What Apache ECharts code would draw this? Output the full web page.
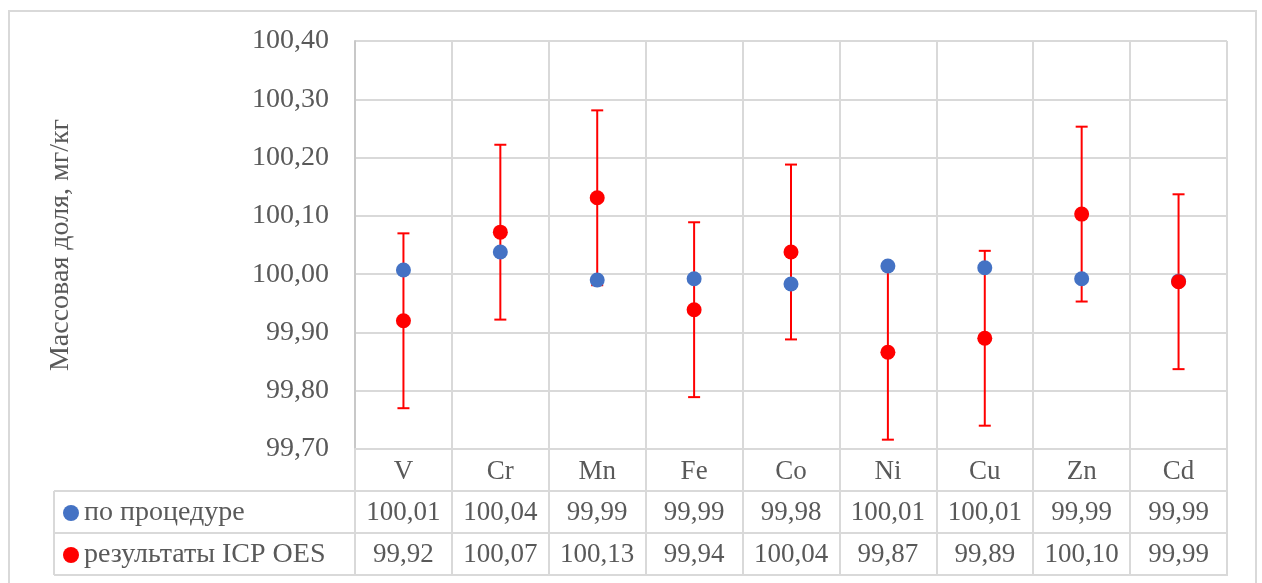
<!DOCTYPE html>
<html>
<head>
<meta charset="utf-8">
<script src="https://cdn.jsdelivr.net/npm/echarts@6/dist/echarts.min.js"></script>
<style>
html,body{margin:0;padding:0;background:#fff;}
#chart{width:1262px;height:583px;}
</style>
</head>
<body>
<div id="chart"></div>
<script>
const categories = ['V', 'Cr', 'Mn', 'Fe', 'Co', 'Ni', 'Cu', 'Zn', 'Cd'];
const procName = 'по процедуре';
const icpName = 'результаты ICP OES';
const procValues = [100.007, 100.038, 99.990, 99.992, 99.983, 100.014, 100.011, 99.992, 99.988];
const icpValues = [99.920, 100.072, 100.131, 99.939, 100.038, 99.866, 99.890, 100.103, 99.987];
const icpErrors = [0.15, 0.15, 0.15, 0.15, 0.15, 0.15, 0.15, 0.15, 0.15];
const yMin = 99.70, yMax = 100.40, yStep = 0.10;
const axisTitle = 'Массовая доля, мг/кг';

const FONT = "'Liberation Serif', 'Times New Roman', serif";
const TXT = '#595959';
const GRID = '#d9d9d9';
const fmt = v => v.toFixed(2).replace('.', ',');

const G = {left: 355, right: 35, top: 41, bottom: 134};
const W = 1262, H = 583;
const plotBottom = H - G.bottom;
const rowH = 42;
const tableLeft = 54;
const tableRight = W - G.right;

const chart = echarts.init(document.getElementById('chart'), null, {renderer: 'canvas'});

const errData = categories.map((c, i) => [i, icpValues[i] - icpErrors[i], icpValues[i] + icpErrors[i]]);

const valueAxisCommon = {
  type: 'category', gridIndex: 0, position: 'bottom',
  axisLine: {show: false}, axisTick: {show: false}, splitLine: {show: false},
  axisLabel: {color: TXT, fontFamily: FONT, fontSize: 27, margin: 8}
};

const option = {
  backgroundColor: '#fff',
  animation: false,
  grid: {left: G.left, right: G.right, top: G.top, bottom: G.bottom, containLabel: false},
  legend: {
    data: [procName, icpName],
    orient: 'vertical', left: 58, top: 493,
    icon: 'circle', itemWidth: 16, itemHeight: 16, itemGap: 12,
    textStyle: {color: TXT, fontFamily: FONT, fontSize: 28, lineHeight: 30},
    selectedMode: false
  },
  xAxis: [
    {
      type: 'category', data: categories, boundaryGap: true,
      axisLine: {show: true, lineStyle: {color: GRID, width: 2}},
      axisTick: {show: true, interval: 0, length: rowH * 3 + 1, lineStyle: {color: GRID, width: 2}},
      splitLine: {show: true, interval: 0, lineStyle: {color: GRID, width: 2}},
      axisLabel: {color: TXT, fontFamily: FONT, fontSize: 27, margin: 9}
    },
    Object.assign({}, valueAxisCommon, {data: procValues.map(fmt), offset: rowH}),
    Object.assign({}, valueAxisCommon, {data: icpValues.map(fmt), offset: rowH * 2})
  ],
  yAxis: {
    type: 'value', min: yMin, max: yMax, interval: yStep,
    name: axisTitle, nameLocation: 'middle', nameRotate: 90, nameGap: 280,
    nameTextStyle: {color: TXT, fontFamily: FONT, fontSize: 28},
    axisLine: {show: true, lineStyle: {color: '#c8c8c8', width: 2}},
    axisTick: {show: false},
    splitLine: {show: true, lineStyle: {color: GRID, width: 2}},
    axisLabel: {color: TXT, fontFamily: FONT, fontSize: 28, margin: 26, formatter: fmt}
  },
  series: [
    {
      name: 'err', type: 'custom', z: 2, silent: true,
      data: errData, encode: {x: 0, y: [1, 2]},
      renderItem: function (params, api) {
        const x = api.value(0);
        const lo = api.coord([x, api.value(1)]);
        const hi = api.coord([x, api.value(2)]);
        const hw = 6;
        const st = {stroke: '#ff0000', lineWidth: 2};
        return {
          type: 'group',
          children: [
            {type: 'line', shape: {x1: lo[0], y1: lo[1], x2: hi[0], y2: hi[1]}, style: st},
            {type: 'line', shape: {x1: lo[0] - hw, y1: lo[1], x2: lo[0] + hw, y2: lo[1]}, style: st},
            {type: 'line', shape: {x1: hi[0] - hw, y1: hi[1], x2: hi[0] + hw, y2: hi[1]}, style: st}
          ]
        };
      }
    },
    {
      name: procName, type: 'scatter', z: 3, data: procValues,
      symbol: 'circle', symbolSize: 15, itemStyle: {color: '#4472c4', opacity: 1}
    },
    {
      name: icpName, type: 'scatter', z: 4, data: icpValues,
      symbol: 'circle', symbolSize: 15, itemStyle: {color: '#ff0000', opacity: 1}
    }
  ],
  graphic: [
    {type: 'rect', silent: true, z: -1, shape: {x: 9, y: 11, width: 1247, height: 590},
      style: {fill: null, stroke: GRID, lineWidth: 2}},
    {type: 'line', silent: true, shape: {x1: tableLeft, y1: plotBottom + rowH, x2: tableRight, y2: plotBottom + rowH},
      style: {stroke: GRID, lineWidth: 2}},
    {type: 'line', silent: true, shape: {x1: tableLeft, y1: plotBottom + rowH * 2, x2: tableRight, y2: plotBottom + rowH * 2},
      style: {stroke: GRID, lineWidth: 2}},
    {type: 'line', silent: true, shape: {x1: tableLeft, y1: plotBottom + rowH * 3, x2: tableRight, y2: plotBottom + rowH * 3},
      style: {stroke: GRID, lineWidth: 2}},
    {type: 'line', silent: true, shape: {x1: tableLeft, y1: plotBottom + rowH, x2: tableLeft, y2: plotBottom + rowH * 3},
      style: {stroke: GRID, lineWidth: 2}}
  ]
};
chart.setOption(option);
</script>
</body>
</html>
